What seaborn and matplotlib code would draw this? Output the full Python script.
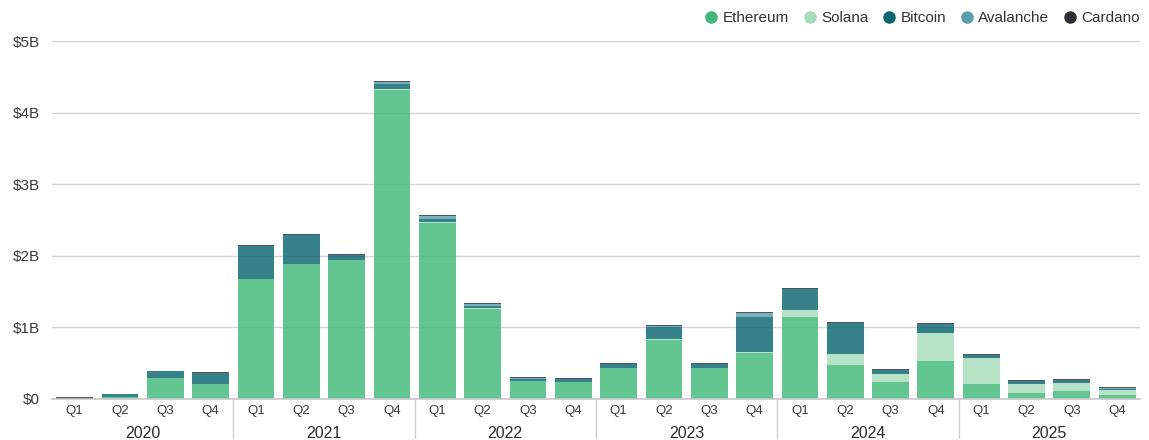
import numpy as np
import matplotlib
matplotlib.use("Agg")
import matplotlib.pyplot as plt
from matplotlib.lines import Line2D
import seaborn as sns

years = ["2020", "2021", "2022", "2023", "2024", "2025"]
quarters = ["Q1", "Q2", "Q3", "Q4"]
periods = [f"{y} {q}" for y in years for q in quarters]

# values in $B
ethereum = [0.003, 0.025, 0.30, 0.21,
            1.67, 1.89, 1.94, 4.31,
            2.46, 1.26, 0.255, 0.24,
            0.437, 0.83, 0.43, 0.64,
            1.15, 0.475, 0.242, 0.535,
            0.205, 0.088, 0.116, 0.056]
solana = [0.0, 0.0, 0.0, 0.0,
          0.0, 0.0, 0.0, 0.022,
          0.014, 0.005, 0.003, 0.003,
          0.002, 0.002, 0.005, 0.01,
          0.093, 0.154, 0.107, 0.391,
          0.368, 0.121, 0.112, 0.07]
bitcoin = [0.017, 0.045, 0.09, 0.155,
           0.47, 0.40, 0.07, 0.065,
           0.04, 0.037, 0.025, 0.03,
           0.05, 0.18, 0.055, 0.50,
           0.293, 0.433, 0.056, 0.121,
           0.042, 0.037, 0.037, 0.019]
avalanche = [0.0, 0.0, 0.0, 0.0,
             0.0, 0.0, 0.0, 0.025,
             0.04, 0.028, 0.014, 0.008,
             0.005, 0.01, 0.0, 0.05,
             0.005, 0.0, 0.0, 0.0,
             0.0, 0.0, 0.0, 0.014]
cardano = [0.002, 0.003, 0.005, 0.012,
           0.012, 0.012, 0.012, 0.018,
           0.014, 0.014, 0.012, 0.012,
           0.012, 0.012, 0.012, 0.014,
           0.014, 0.014, 0.014, 0.014,
           0.014, 0.014, 0.014, 0.009]

series = {"Ethereum": ethereum, "Solana": solana, "Bitcoin": bitcoin,
          "Avalanche": avalanche, "Cardano": cardano}
colors = {"Ethereum": "#40b97a", "Solana": "#a6dcb9", "Bitcoin": "#0b6570",
          "Avalanche": "#5a9fae", "Cardano": "#2e2f36"}

sns.set_style("white")
plt.rcParams["font.family"] = ["Liberation Sans", "DejaVu Sans"]

fig = plt.figure(figsize=(11.49, 4.40), dpi=100)
ax = fig.add_axes([0.0453, 0.0932, 0.9467, 0.8136])

bottom = np.zeros(len(periods))
for name, vals in series.items():
    vals = np.array(vals)
    sns.barplot(x=periods, y=vals, bottom=bottom, color=colors[name],
                alpha=0.82, width=0.81, linewidth=0, saturation=1, ax=ax)
    bottom += vals

ax.set_xlim(-0.5, len(periods) - 0.5)
ax.set_ylim(0, 5)
ax.set_yticks([0, 1, 2, 3, 4, 5])
ax.set_yticklabels(["$0", "$1B", "$2B", "$3B", "$4B", "$5B"])
ax.yaxis.grid(True, color="#d4d4d4", linewidth=1)
ax.set_axisbelow(True)
for s in ["top", "right", "left"]:
    ax.spines[s].set_visible(False)
ax.spines["bottom"].set_color("#c8c8c8")
ax.spines["bottom"].set_linewidth(1.2)

ax.set_xticks(range(len(periods)))
ax.set_xticklabels([q for y in years for q in quarters])
ax.tick_params(axis="x", length=0, pad=4, labelsize=9.5, colors="#3a3a3a")
ax.tick_params(axis="y", length=0, pad=9, labelsize=11, colors="#3a3a3a")
ax.set_xlabel("")
ax.set_ylabel("")

# year labels and separators
for i, y in enumerate(years):
    ax.text(i * 4 + 1.5, -0.095, y, transform=ax.get_xaxis_transform(),
            ha="center", va="center", fontsize=11.5, color="#2b2b2b")
    if i > 0:
        ax.plot([i * 4 - 0.5, i * 4 - 0.5], [0, -0.11], color="#cfcfcf",
                linewidth=1, transform=ax.get_xaxis_transform(), clip_on=False)

handles = [Line2D([], [], marker="o", linestyle="", markersize=8,
                  markerfacecolor=colors[n], markeredgecolor=colors[n], label=n)
           for n in series]
fig.legend(handles=handles, loc="center right", bbox_to_anchor=(1.004, 0.959),
           ncol=5, frameon=False, fontsize=11, handletextpad=0.25,
           columnspacing=0.85, handlelength=1.0, labelcolor="#333333")

plt.savefig("out.png", dpi=100)
plt.close()
